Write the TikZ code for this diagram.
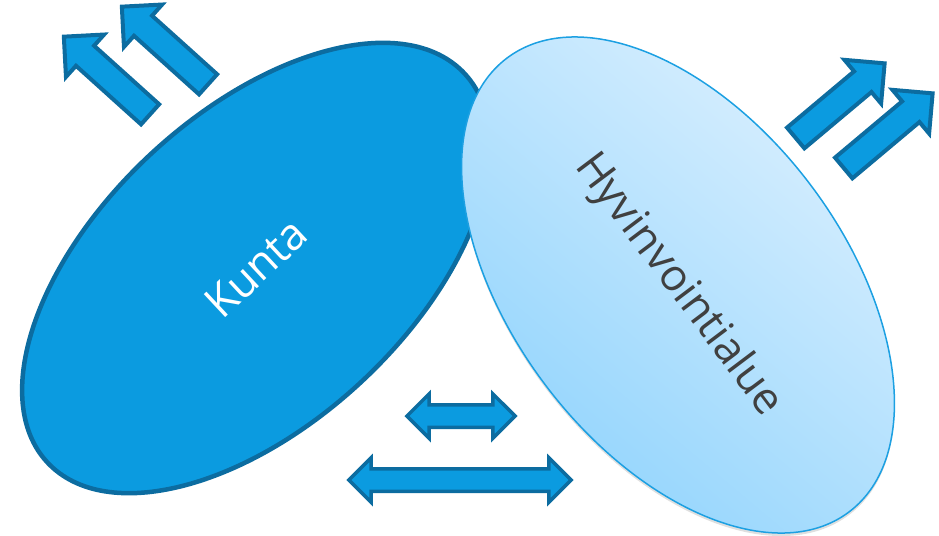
\documentclass[tikz,border=0pt]{standalone}
\usepackage{fontspec}
\setmainfont{Open Sans}
\usetikzlibrary{shapes.geometric,shapes.arrows,shadows}
\definecolor{kuntablue}{RGB}{11,155,224}
\definecolor{kuntaline}{RGB}{12,108,160}
\definecolor{hyvtop}{RGB}{222,241,254}
\definecolor{hyvbottom}{RGB}{140,210,253}
\definecolor{hyvline}{RGB}{28,160,226}
\definecolor{hyvtext}{RGB}{64,64,64}

\begin{document}
\begin{tikzpicture}[x=0.01cm, y=0.01cm,
    blob/.style={ellipse, inner sep=0pt, font=\fontsize{12.5}{15}\selectfont},
    outarrow/.style={single arrow, draw=kuntaline, fill=kuntablue, line width=0.04cm,
        inner sep=0pt, inner ysep=0.115cm, minimum height=1.16cm,
        single arrow head extend=0.15cm, single arrow tip angle=90, single arrow head indent=0pt},
    twoway/.style={double arrow, draw=kuntaline, fill=kuntablue, line width=0.035cm,
        inner sep=0pt, inner ysep=0.095cm,
        double arrow head extend=0.11cm, double arrow tip angle=90, double arrow head indent=0pt}]
    \useasboundingbox (0,0) rectangle (939,535);
    % Kunta
    \node[blob, draw=kuntaline, fill=kuntablue, line width=0.045cm,
        minimum width=5.7cm, minimum height=3.1cm, rotate=43, text=white] (kunta) at (256,267) {Kunta};
    % Hyvinvointialue
    \node[blob, draw=hyvline, line width=0.015cm, top color=hyvtop, bottom color=hyvbottom, shading angle=-40,
        drop shadow={opacity=0.25, shadow xshift=0pt, shadow yshift=-0.03cm},
        minimum width=5.68cm, minimum height=3.32cm, rotate=-53, text=hyvtext] (hyv) at (678,250) {Hyvinvointialue};
    % arrows out of kunta
    \node[outarrow, rotate=138] (kout1) at (112,455) {};
    \node[outarrow, rotate=138] (kout2) at (170,485) {};
    % arrows out of hyvinvointialue
    \node[outarrow, rotate=40] (hout1) at (835,430) {};
    \node[outarrow, rotate=40] (hout2) at (883,400) {};
    % both ways
    \node[twoway, minimum height=1.08cm] (both1) at (461,119) {};
    \node[twoway, minimum height=2.22cm] (both2) at (460,55) {};
\end{tikzpicture}
\end{document}
